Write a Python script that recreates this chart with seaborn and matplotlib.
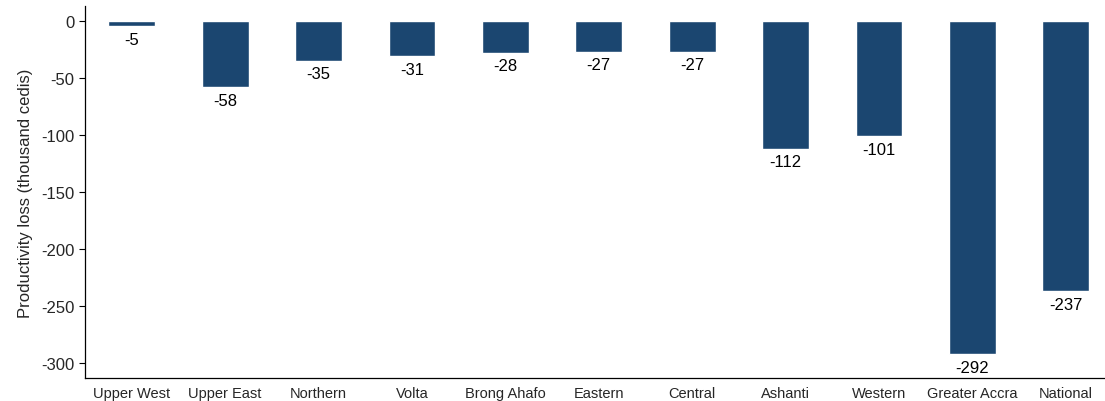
import matplotlib
matplotlib.use("Agg")
import matplotlib.pyplot as plt
import seaborn as sns
import pandas as pd

regions = ["Upper West", "Upper East", "Northern", "Volta", "Brong Ahafo",
           "Eastern", "Central", "Ashanti", "Western", "Greater Accra", "National"]
loss = [-5, -58, -35, -31, -28, -27, -27, -112, -101, -292, -237]

df = pd.DataFrame({"region": regions, "loss": loss})

sns.set_style("ticks")
plt.rcParams["font.family"] = ["Liberation Sans", "DejaVu Sans"]
plt.rcParams["axes.unicode_minus"] = False

fig = plt.figure(figsize=(11.05, 4.02), dpi=100)
ax = fig.add_axes([0.077, 0.057, 0.923, 0.926])

sns.barplot(data=df, x="region", y="loss", color="#1b4670", width=0.5,
            saturation=1, ax=ax)

# value labels under each bar
for i, v in enumerate(loss):
    ax.text(i, v - 5, f"{v}", ha="center", va="top", fontsize=12, color="black")

ax.set_ylim(-313, 13)
ax.set_xlim(-0.5, 10.42)
ax.set_yticks([0, -50, -100, -150, -200, -250, -300])
ax.tick_params(axis="y", labelsize=12, length=4, width=0.8, color="black")
ax.tick_params(axis="x", labelsize=10.5, length=0, pad=6)
ax.set_xlabel("")
ax.set_ylabel("Productivity loss (thousand cedis)", fontsize=12, labelpad=6)
for s in ["top", "right"]:
    ax.spines[s].set_visible(False)
for s in ["left", "bottom"]:
    ax.spines[s].set_color("black")
    ax.spines[s].set_linewidth(0.9)

fig.savefig("out.png", dpi=100)
